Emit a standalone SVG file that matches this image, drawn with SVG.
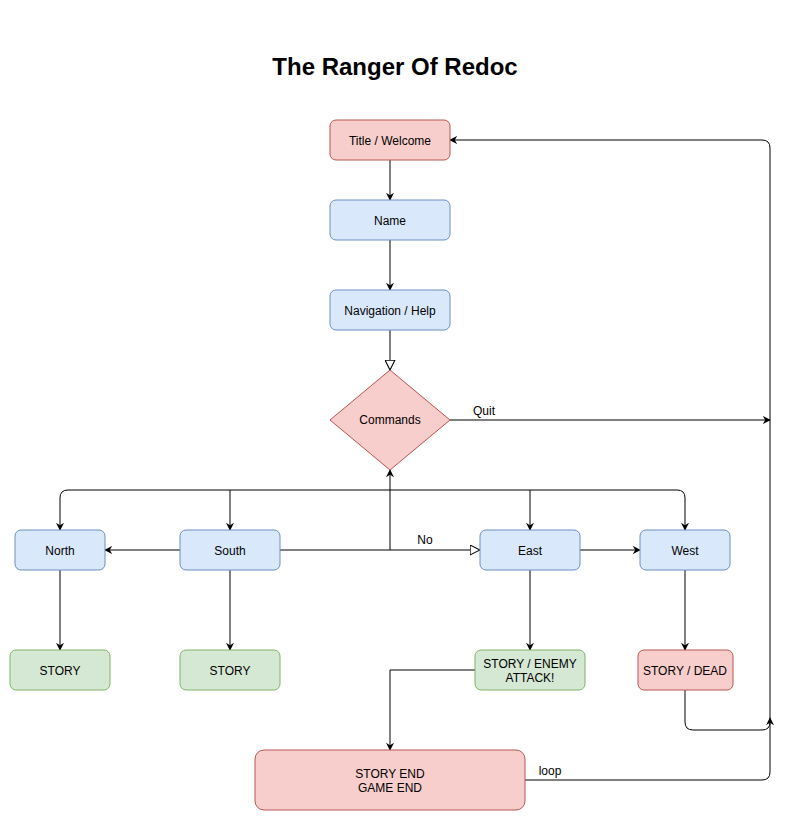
<svg xmlns="http://www.w3.org/2000/svg" width="789" height="821" viewBox="0 0 789 821">
<defs>
<style>
text{font-family:"Liberation Sans",Arial,sans-serif;font-size:12px;fill:#000}
.t{text-anchor:middle;dominant-baseline:central}
.red{fill:#f8cecc;stroke:#b85450}
.blue{fill:#dae8fc;stroke:#6c8ebf}
.green{fill:#d5e8d4;stroke:#82b366}
.e{fill:none;stroke:#000;stroke-width:1}
</style>
<marker id="a" viewBox="0 0 10 10" refX="9" refY="5" markerWidth="8" markerHeight="8" markerUnits="userSpaceOnUse" orient="auto"><path d="M0,0 L10,5 L0,10 L3,5 Z" fill="#000"/></marker>
<marker id="o" viewBox="0 0 10 10" refX="9.5" refY="5" markerWidth="11" markerHeight="11" markerUnits="userSpaceOnUse" orient="auto"><path d="M0.5,0.5 L9.5,5 L0.5,9.5 Z" fill="#fff" stroke="#000" stroke-width="1"/></marker>
</defs>
<rect width="789" height="821" fill="#fff"/>
<text x="395" y="66" class="t" style="font-size:24px;font-weight:bold">The Ranger Of Redoc</text>
<g id="connectors">
<path class="e" d="M390,160 V200" marker-end="url(#a)"/>
<path class="e" d="M390,240 V290" marker-end="url(#a)"/>
<path class="e" d="M390,330 V370" marker-end="url(#o)"/>
<path class="e" d="M450,420 H770" marker-end="url(#a)"/>
<text x="484" y="411" class="t">Quit</text>
<path class="e" d="M525,780 H762 Q770,780 770,772 V148 Q770,140 762,140 H450" marker-end="url(#a)"/>
<text x="550" y="771" class="t">loop</text>
<path class="e" d="M685,690 V722 Q685,730 693,730 H762 Q770,730 770,722 V718" marker-end="url(#a)"/>
<path class="e" d="M390,490 H68 Q60,490 60,498 V530" marker-end="url(#a)"/>
<path class="e" d="M390,490 H677 Q685,490 685,498 V530" marker-end="url(#a)"/>
<path class="e" d="M230,490 V530" marker-end="url(#a)"/>
<path class="e" d="M530,490 V530" marker-end="url(#a)"/>
<path class="e" d="M280,550 H390 V470" marker-end="url(#a)"/>
<path class="e" d="M390,550 H480" marker-end="url(#o)"/>
<text x="425" y="540" class="t">No</text>
<path class="e" d="M180,550 H105" marker-end="url(#a)"/>
<path class="e" d="M580,550 H640" marker-end="url(#a)"/>
<path class="e" d="M60,570 V650" marker-end="url(#a)"/>
<path class="e" d="M230,570 V650" marker-end="url(#a)"/>
<path class="e" d="M530,570 V650" marker-end="url(#a)"/>
<path class="e" d="M685,570 V650" marker-end="url(#a)"/>
<path class="e" d="M475,670 H390 V750" marker-end="url(#a)"/>
</g>
<g id="title-welcome"><rect x="330" y="120" width="120" height="40" rx="6" class="red"/><text x="390" y="141" class="t">Title / Welcome</text></g>
<g id="name"><rect x="330" y="200" width="120" height="40" rx="6" class="blue"/><text x="390" y="221" class="t">Name</text></g>
<g id="navigation"><rect x="330" y="290" width="120" height="40" rx="6" class="blue"/><text x="390" y="311" class="t">Navigation / Help</text></g>
<g id="commands"><path d="M390,370 L450,420 L390,470 L330,420 Z" class="red"/><text x="390" y="420" class="t">Commands</text></g>
<g id="north"><rect x="15" y="530" width="90" height="40" rx="6" class="blue"/><text x="60" y="551" class="t">North</text></g>
<g id="south"><rect x="180" y="530" width="100" height="40" rx="6" class="blue"/><text x="230" y="551" class="t">South</text></g>
<g id="east"><rect x="480" y="530" width="100" height="40" rx="6" class="blue"/><text x="530" y="551" class="t">East</text></g>
<g id="west"><rect x="640" y="530" width="90" height="40" rx="6" class="blue"/><text x="685" y="551" class="t">West</text></g>
<g id="story-north"><rect x="10" y="650" width="100" height="40" rx="6" class="green"/><text x="60" y="671" class="t">STORY</text></g>
<g id="story-south"><rect x="180" y="650" width="100" height="40" rx="6" class="green"/><text x="230" y="671" class="t">STORY</text></g>
<g id="story-enemy"><rect x="475" y="650" width="110" height="40" rx="6" class="green"/><text x="530" y="664" class="t">STORY / ENEMY</text><text x="530" y="678" class="t">ATTACK!</text></g>
<g id="story-dead"><rect x="638" y="650" width="95" height="40" rx="6" class="red"/><text x="685" y="671" class="t">STORY / DEAD</text></g>
<g id="story-end"><rect x="255" y="750" width="270" height="60" rx="9" class="red"/><text x="390" y="774" class="t">STORY END</text><text x="390" y="788" class="t">GAME END</text></g>
</svg>
